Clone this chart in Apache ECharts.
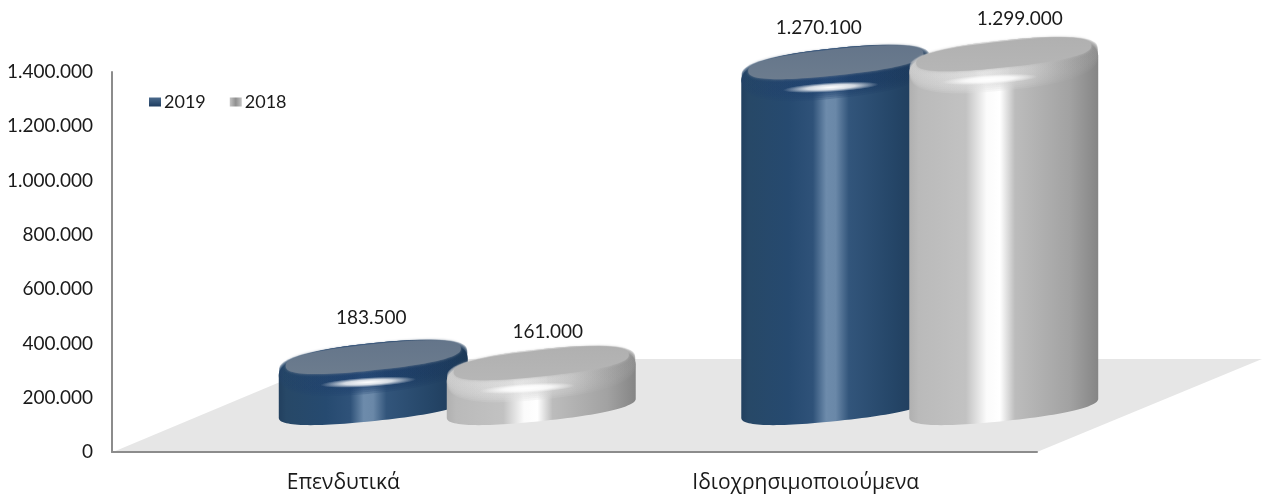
<!DOCTYPE html>
<html><head><meta charset="utf-8">
<style>html,body{margin:0;padding:0;background:#fff}#c{width:1263px;height:494px}</style>
<script src="https://cdn.jsdelivr.net/npm/echarts@6/dist/echarts.min.js"></script></head>
<body><div id="c"></div>
<script>
const categories = ['Επενδυτικά', 'Ιδιοχρησιμοποιούμενα'];
const values2019 = [183500, 1270100];
const values2018 = [161000, 1299000];
const yTicks = { min: 0, max: 1400000, interval: 200000 };

const FONT = 'Lato, "Open Sans", "Noto Sans", sans-serif';
const GREEK = '"Open Sans", "Noto Sans", sans-serif';
const fmt = v => String(v).replace(/\B(?=(\d{3})+$)/g, '.');
const tilt = -6 * Math.PI / 180;
const A = 95, B = 13, DEPTH = 44;

function ell(cx, cy, a, b, t0, t1, n, p) {
  const e = p || 1;
  const pw = c => Math.sign(c) * Math.pow(Math.abs(c), e);
  const out = [];
  for (let i = 0; i <= n; i++) {
    const t = t0 + (t1 - t0) * i / n;
    const c = pw(Math.cos(t)), s = pw(Math.sin(t));
    out.push([
      cx + a * c * Math.cos(tilt) - b * s * Math.sin(tilt),
      cy + a * c * Math.sin(tilt) + b * s * Math.cos(tilt)
    ]);
  }
  return out;
}
const lin = (x0, y0, x1, y1, stops) => ({
  type: 'linear', x: x0, y: y0, x2: x1, y2: y1,
  colorStops: stops.map(s => ({ offset: s[0], color: s[1] }))
});

const palette = {
  2019: {
    body: [[0, '#22405f'], [0.04, '#274867'], [0.25, '#264a70'], [0.38, '#2f5279'], [0.45, '#6d8bab'], [0.5, '#6a88a8'], [0.57, '#32557b'], [0.8, '#254668'], [1, '#1d3856']],
    shoulder: [[0, '#234468'], [0.45, '#1f4270'], [1, '#1b3858']],
    face: [[0, '#64758a'], [1, '#6c7c8e']],
    legend: lin(0, 0, 0, 1, [[0, '#4a6a8c'], [1, '#1f3d60']])
  },
  2018: {
    body: [[0, '#b0b0b0'], [0.05, '#bababa'], [0.3, '#c2c2c2'], [0.41, '#fbfbfb'], [0.48, '#ffffff'], [0.56, '#bcbcbc'], [0.85, '#a2a2a2'], [1, '#858585']],
    shoulder: [[0, '#cccccc'], [0.4, '#e2e2e2'], [0.65, '#c8c8c8'], [1, '#909090']],
    face: [[0, '#b0b0b0'], [1, '#b6b6b6']],
    legend: lin(0, 0, 1, 0, [[0, '#c4c4c4'], [0.5, '#8f8f8f'], [1, '#c4c4c4']])
  }
};

function cylinder(year, dx, blobDx, labelOffsets) {
  const pal = palette[year];
  return function (params, api) {
    const cat = api.value(0), val = api.value(1);
    const top = api.coord([cat, val]);
    const base = api.coord([cat, 0]);
    const cx = top[0] + dx, cyT = top[1] - DEPTH, cyB = base[1] - DEPTH;
    const bodyPts = ell(cx, cyT + 10, A, 25, Math.PI, 2 * Math.PI, 60, 0.8).concat(ell(cx, cyB, A, B, 0, Math.PI, 60, 0.85));
    const off = labelOffsets[cat];
    const children = [
      { type: 'polygon', shape: { points: bodyPts }, style: { fill: lin(0, 0, 1, 0, pal.body) } }
    ];
    for (let k = 0; k <= 8; k++) {
      children.push({
        type: 'polygon',
        shape: { points: ell(cx, cyT + 10 - k, A - 0.5, 25 - k, 0, 2 * Math.PI, 96, 0.8) },
        style: { fill: lin(0, 0, 1, 0, pal.shoulder), opacity: 0.25 }
      });
    }
    children.push(
      { type: 'polygon', shape: { points: ell(cx, cyT - 1, A - 7, B, 0, 2 * Math.PI, 96, 0.8) },
        style: { fill: lin(0, 0, 0, 1, pal.face), shadowBlur: 3, shadowColor: pal.face[1][1] } },
      { type: 'circle', x: cx + blobDx, y: cyT + 24, scaleX: 1, scaleY: 0.1, rotation: 3.5 * Math.PI / 180,
        shape: { cx: 0, cy: 0, r: 48 },
        style: { fill: { type: 'radial', x: 0.5, y: 0.5, r: 0.5, colorStops: [
          { offset: 0, color: 'rgba(255,255,255,1)' }, { offset: 0.5, color: 'rgba(255,255,255,0.8)' }, { offset: 1, color: 'rgba(255,255,255,0)' }] } } },
      { type: 'text', x: cx + off[0], y: cyT + off[1],
        style: { text: fmt(val), font: '19px ' + FONT, fill: '#1a1a1a', align: 'center', verticalAlign: 'middle' } }
    );
    return { type: 'group', children };
  };
}

const chart = echarts.init(document.getElementById('c'), null, { renderer: 'canvas' });
chart.setOption({
  animation: false,
  backgroundColor: '#fff',
  textStyle: { fontFamily: FONT },
  grid: { left: 112, right: 226, top: 72, bottom: 42 },
  legend: {
    left: 144, top: 88, itemWidth: 12, itemHeight: 9, itemGap: 24,
    icon: 'rect',
    textStyle: { fontFamily: FONT, fontSize: 18, color: '#1a1a1a', padding: [0, 0, 0, -2] },
    data: ['2019', '2018']
  },
  graphic: [{
    type: 'polygon', z: -1, silent: true,
    shape: { points: [[113, 452], [1037, 452], [1262, 359], [335, 359]] },
    style: { fill: '#e6e6e6' }
  }],
  xAxis: {
    type: 'category', data: categories,
    axisTick: { show: false },
    axisLine: { lineStyle: { color: '#8c8c8c', width: 2 } },
    axisLabel: { fontFamily: GREEK, fontSize: 21, color: '#1a1a1a', margin: 21 }
  },
  yAxis: {
    type: 'value', min: yTicks.min, max: yTicks.max, interval: yTicks.interval,
    splitLine: { show: false },
    axisTick: { show: false },
    axisLine: { show: true, lineStyle: { color: '#8c8c8c', width: 2 } },
    axisLabel: { fontFamily: FONT, fontSize: 19, color: '#1a1a1a', margin: 19, formatter: fmt }
  },
  series: [
    { name: '2019', type: 'custom', clip: false, itemStyle: { color: palette[2019].legend },
      encode: { x: 0, y: 1 },
      renderItem: cylinder(2019, 30, -5, [[-2, -40], [-17, -35]]),
      data: values2019.map((v, i) => [i, v]) },
    { name: '2018', type: 'custom', clip: false, itemStyle: { color: palette[2018].legend },
      encode: { x: 0, y: 1 },
      renderItem: cylinder(2018, 198, -14, [[6.5, -32], [16, -37]]),
      data: values2018.map((v, i) => [i, v]) }
  ]
});
</script></body></html>
